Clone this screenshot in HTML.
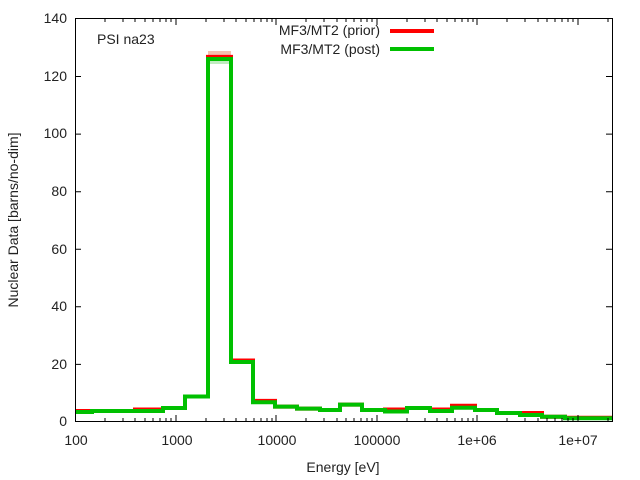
<!DOCTYPE html>
<html><head><style>body{margin:0;background:#fff}svg{display:block}text{font-family:"Liberation Sans",sans-serif;font-size:14px;fill:#222}</style></head>
<body>
<svg width="640" height="480" xmlns="http://www.w3.org/2000/svg">
<rect x="208" y="51" width="23" height="6" fill="#f4c0b0"/>
<rect x="208" y="59" width="23" height="5" fill="#c0ecc0"/>
<path d="M75 411 H135 V409.5 H163 V408 H185 V396.5 H208 V56.9 H231 V360.5 H253 V400.9 H275 V406.6 H297 V408.6 H320 V410 H340 V404.6 H362 V410 H385 V409.5 H407 V408 H430 V409.5 H452 V405.7 H475 V410 H497 V413 H520 V413 H542 V416.7 H565 V417.8 H612" fill="none" stroke="#ff0000" stroke-width="4"/>
<path d="M75 412 H92 V411 H163 V408 H185 V396.5 H208 V59 H231 V362 H253 V402.3 H275 V406.6 H297 V408.6 H320 V410 H340 V404.6 H362 V410 H385 V411.5 H407 V408 H430 V411 H452 V407.8 H475 V410 H497 V413 H520 V415 H542 V416.7 H565 V418.3 H612" fill="none" stroke="#00c000" stroke-width="4"/>
<rect x="75.5" y="18.5" width="537" height="403" fill="none" stroke="#000"/>
<g stroke="#000">
<path d="M75 364.4h6M75 306.8h6M75 249.2h6M75 191.7h6M75 134.1h6M75 76.5h6M612 364.4h-6M612 306.8h-6M612 249.2h-6M612 191.7h-6M612 134.1h-6M612 76.5h-6"/>
<path d="M176 421v-6M276 421v-6M377 421v-6M477 421v-6M578 421v-6M176 19v6M276 19v6M377 19v6M477 19v6M578 19v6"/>
<path d="M105 421v-3M123 421v-3M135 421v-3M145 421v-3M153 421v-3M160 421v-3M166 421v-3M171 421v-3M206 421v-3M224 421v-3M236 421v-3M246 421v-3M254 421v-3M261 421v-3M267 421v-3M272 421v-3M306 421v-3M324 421v-3M337 421v-3M346 421v-3M354 421v-3M361 421v-3M367 421v-3M372 421v-3M407 421v-3M425 421v-3M437 421v-3M447 421v-3M455 421v-3M462 421v-3M468 421v-3M473 421v-3M507 421v-3M525 421v-3M538 421v-3M547 421v-3M555 421v-3M562 421v-3M568 421v-3M573 421v-3M608 421v-3"/>
<path d="M105 19v3M123 19v3M135 19v3M145 19v3M153 19v3M160 19v3M166 19v3M171 19v3M206 19v3M224 19v3M236 19v3M246 19v3M254 19v3M261 19v3M267 19v3M272 19v3M306 19v3M324 19v3M337 19v3M346 19v3M354 19v3M361 19v3M367 19v3M372 19v3M407 19v3M425 19v3M437 19v3M447 19v3M455 19v3M462 19v3M468 19v3M473 19v3M507 19v3M525 19v3M538 19v3M547 19v3M555 19v3M562 19v3M568 19v3M573 19v3M608 19v3"/>
</g>
<g text-anchor="end">
<text x="67" y="426">0</text><text x="67" y="369">20</text><text x="67" y="311">40</text><text x="67" y="254">60</text><text x="67" y="196">80</text><text x="67" y="138">100</text><text x="67" y="81">120</text><text x="67" y="23">140</text>
</g>
<g text-anchor="middle">
<text x="76" y="445">100</text><text x="177" y="445">1000</text><text x="277" y="445">10000</text><text x="377" y="445">100000</text><text x="477" y="445">1e+06</text><text x="578" y="445">1e+07</text>
<text x="343" y="472">Energy [eV]</text>
<text transform="translate(18,220) rotate(-90)">Nuclear Data [barns/no-dim]</text>
</g>
<text x="97" y="44">PSI na23</text>
<g text-anchor="end"><text x="380" y="35">MF3/MT2 (prior)</text><text x="380" y="54">MF3/MT2 (post)</text></g>
<path d="M390 31H434" stroke="#ff0000" stroke-width="4"/>
<path d="M390 49H434" stroke="#00c000" stroke-width="4"/>
</svg>
</body></html>
